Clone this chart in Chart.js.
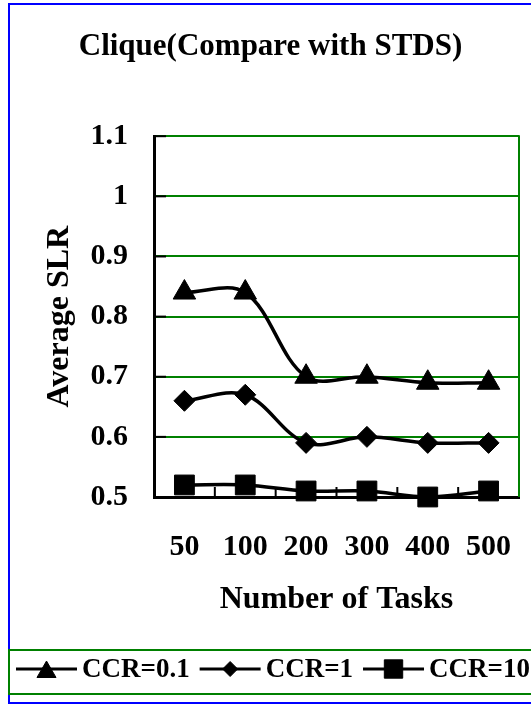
<!DOCTYPE html>
<html>
<head>
<meta charset="utf-8">
<script src="https://cdn.jsdelivr.net/npm/chart.js@4"></script>
<style>
  html, body { margin: 0; padding: 0; background: #fff; }
</style>
</head>
<body>
<canvas id="chart" width="531" height="704"></canvas>
<script>
// Data
const taskCounts = ['50', '100', '200', '300', '400', '500'];
const ccr01 = [0.84, 0.84, 0.70, 0.70, 0.69, 0.69];
const ccr1 = [0.66, 0.67, 0.59, 0.60, 0.59, 0.59];
const ccr10 = [0.52, 0.52, 0.51, 0.51, 0.50, 0.51];
const yTicks = [0.5, 0.6, 0.7, 0.8, 0.9, 1.0, 1.1];

const FONT = "'Liberation Serif', 'Times New Roman', serif";
const GREEN = '#008000';
const BLUE = '#0000ff';

function line(ctx, x1, y1, x2, y2) {
    ctx.beginPath();
    ctx.moveTo(x1, y1);
    ctx.lineTo(x2, y2);
    ctx.stroke();
}

// inward tick marks, right frame, outer border and legend
const plotFrame = {
    id: 'plotFrame',
    beforeDatasetsDraw(chart) {
        const { ctx, chartArea: a, scales: { x, y } } = chart;
        ctx.save();
        ctx.strokeStyle = GREEN;
        ctx.lineWidth = 2;
        line(ctx, a.right, a.top - 1, a.right, a.bottom);

        ctx.strokeStyle = '#000';
        y.ticks.forEach(t => {
            const py = y.getPixelForValue(t.value);
            line(ctx, a.left, py, a.left + 12, py);
        });
        for (let i = 0; i < taskCounts.length - 1; i++) {
            const px = (x.getPixelForValue(i) + x.getPixelForValue(i + 1)) / 2;
            line(ctx, px, a.bottom, px, a.bottom - 10);
        }
        ctx.restore();
    },
    afterDraw(chart) {
        const { ctx } = chart;
        ctx.save();
        // outer blue frame
        ctx.strokeStyle = BLUE;
        ctx.lineWidth = 2;
        ctx.strokeRect(9, 4, 600, 699);

        // legend box
        ctx.strokeStyle = GREEN;
        ctx.strokeRect(9, 650, 600, 44);

        // legend items
        let lx = 16;
        const ly = 669;
        ctx.font = 'bold 27px ' + FONT;
        ctx.textBaseline = 'middle';
        ctx.textAlign = 'left';
        chart.data.datasets.forEach(ds => {
            ctx.strokeStyle = '#000';
            ctx.lineWidth = 3;
            line(ctx, lx, ly, lx + 61, ly);
            ctx.fillStyle = '#000';
            ctx.lineWidth = 1;
            Chart.helpers.drawPoint(ctx, {
                pointStyle: ds.pointStyle,
                radius: ds.legendRadius,
                borderWidth: 1,
                rotation: 0
            }, lx + 30.5, ly + (ds.pointStyle === 'triangle' ? 3 : 0));
            ctx.fillText(ds.label, lx + 66, ly + 1);
            lx += 66 + ctx.measureText(ds.label).width + 10;
        });
        ctx.restore();
    }
};

function makeSeries(label, data, style, radius, legendRadius) {
    return {
        label: label,
        data: data,
        borderColor: '#000',
        backgroundColor: '#000',
        borderWidth: 3.5,
        tension: 0.35,
        pointStyle: style,
        pointRadius: radius,
        pointBackgroundColor: '#000',
        pointBorderColor: '#000',
        pointBorderWidth: 1,
        legendRadius: legendRadius,
        clip: false
    };
}

new Chart(document.getElementById('chart'), {
    type: 'line',
    data: {
        labels: taskCounts,
        datasets: [
            makeSeries('CCR=0.1', ccr01, 'triangle', 13, 11),
            makeSeries('CCR=1', ccr1, 'rectRot', 10.5, 7.5),
            makeSeries('CCR=10', ccr10, 'rect', 14, 13)
        ]
    },
    options: {
        responsive: false,
        animation: false,
        devicePixelRatio: 1,
        layout: {
            autoPadding: false,
            padding: { left: 22, right: 12, top: 4, bottom: 84.6 }
        },
        plugins: {
            legend: { display: false },
            tooltip: { enabled: false },
            title: {
                display: true,
                text: 'Clique(Compare with STDS)',
                color: '#000',
                font: { family: FONT, size: 31, weight: 'bold' },
                padding: { top: 24, bottom: 71 }
            }
        },
        scales: {
            x: {
                offset: true,
                afterFit: (scale) => {
                    scale.height = 122.4;
                    scale.paddingLeft = 0;
                    scale.paddingRight = 0;
                },
                grid: { display: false, drawTicks: false },
                border: { display: true, color: '#000', width: 3 },
                ticks: {
                    color: '#000',
                    padding: 32,
                    maxRotation: 0,
                    font: { family: FONT, size: 30, weight: 'bold' }
                },
                title: {
                    display: true,
                    text: 'Number of Tasks',
                    color: '#000',
                    font: { family: FONT, size: 32, weight: 'bold' },
                    padding: { top: 16, bottom: 0 }
                }
            },
            y: {
                min: 0.5,
                max: 1.1,
                afterBuildTicks: (scale) => {
                    scale.ticks = yTicks.map(v => ({ value: v }));
                },
                afterFit: (scale) => {
                    scale.width = 132;
                },
                grid: {
                    drawTicks: false,
                    lineWidth: 2,
                    color: (c) => (c.tick && c.tick.value === 0.5) ? 'rgba(0,0,0,0)' : GREEN
                },
                border: { display: true, color: '#000', width: 3 },
                ticks: {
                    color: '#000',
                    padding: 26,
                    font: { family: FONT, size: 30, weight: 'bold' },
                    callback: (v) => String(Number(v.toFixed(1)))
                },
                title: {
                    display: true,
                    text: 'Average SLR',
                    color: '#000',
                    font: { family: FONT, size: 32, weight: 'bold' },
                    padding: { top: 19, bottom: 0 }
                }
            }
        }
    },
    plugins: [plotFrame]
});
</script>
</body>
</html>
